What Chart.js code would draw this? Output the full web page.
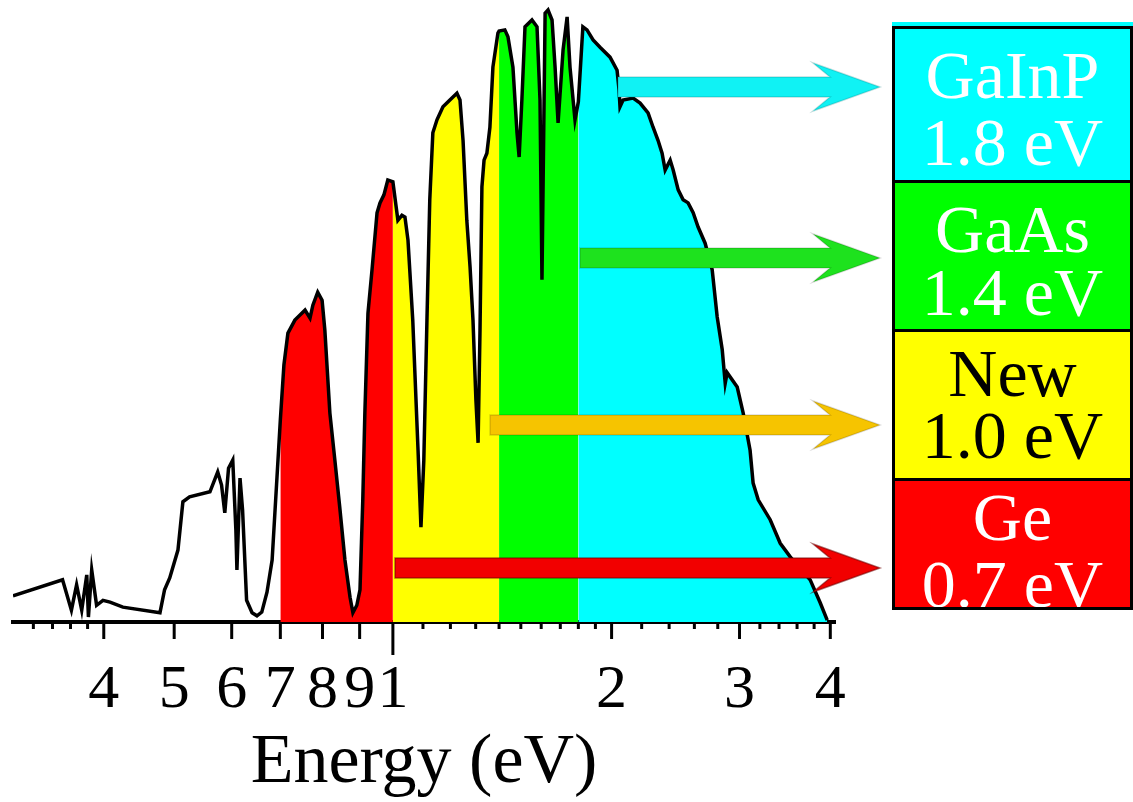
<!DOCTYPE html>
<html>
<head>
<meta charset="utf-8">
<title>Energy (eV)</title>
<script src="https://cdn.jsdelivr.net/npm/chart.js@4.4.0/dist/chart.umd.min.js"></script>
<style>
  html, body { margin: 0; padding: 0; background: #fff; }
  #wrap { width: 1133px; height: 802px; }
</style>
</head>
<body>
<div id="wrap"><canvas id="spectrum" width="1133" height="802"></canvas></div>
<script>
"use strict";

// photon energy (eV) and spectral intensity (arb. units, 0-100)
var energy = [
    0.300, 0.351, 0.361, 0.367, 0.373, 0.379, 0.381, 0.385, 0.391, 0.399,
    0.408, 0.425, 0.478, 0.485, 0.493, 0.506, 0.514, 0.525, 0.560, 0.574,
    0.581, 0.587, 0.594, 0.602, 0.608, 0.610, 0.616, 0.621, 0.629, 0.640,
    0.650, 0.660, 0.671, 0.682, 0.700, 0.708, 0.717, 0.733, 0.745, 0.757,
    0.769, 0.776, 0.788, 0.799, 0.806, 0.819, 0.832, 0.845, 0.859, 0.873,
    0.881, 0.892, 0.901, 0.909, 0.915, 0.924, 0.936, 0.951, 0.960, 0.972,
    0.984, 1.000, 1.016, 1.029, 1.039, 1.049, 1.065, 1.083, 1.093, 1.103,
    1.114, 1.124, 1.135, 1.150, 1.172, 1.198, 1.225, 1.237, 1.249, 1.264,
    1.277, 1.289, 1.301, 1.310, 1.318, 1.326, 1.335, 1.347, 1.360, 1.373,
    1.395, 1.400, 1.426, 1.440, 1.463, 1.482, 1.492, 1.505, 1.520, 1.554,
    1.579, 1.594, 1.604, 1.620, 1.635, 1.656, 1.672, 1.688, 1.715, 1.737,
    1.753, 1.781, 1.800, 1.826, 1.850, 1.886, 1.928, 1.990, 2.035, 2.048,
    2.054, 2.074, 2.141, 2.189, 2.245, 2.281, 2.317, 2.347, 2.370, 2.408,
    2.431, 2.470, 2.509, 2.549, 2.590, 2.631, 2.690, 2.751, 2.795, 2.840,
    2.867, 2.885, 2.978, 3.035, 3.102, 3.132, 3.183, 3.306, 3.413, 3.523,
    3.753, 3.874, 3.961
];
var intensity = [
    4.2, 6.8, 1.9, 6.0, 1.9, 7.6, 0.8, 8.4, 2.7, 3.5,
    3.2, 2.4, 1.5, 5.2, 7.1, 11.6, 19.4, 20.2, 21.0, 24.2,
    22.1, 17.6, 24.8, 26.1, 14.8, 8.4, 23.2, 18.1, 3.5, 1.5,
    1.0, 1.6, 4.8, 10.0, 32.6, 41.5, 46.6, 48.7, 49.5, 50.3,
    49.0, 51.1, 53.2, 51.9, 47.1, 33.7, 26.1, 18.5, 10.0, 4.0,
    1.5, 2.7, 5.2, 19.7, 33.7, 49.8, 56.8, 66.0, 67.6, 68.9,
    71.3, 71.0, 64.8, 65.6, 65.3, 61.6, 48.7, 27.7, 15.3, 26.1,
    48.7, 68.1, 78.9, 81.0, 83.1, 84.2, 85.3, 84.2, 77.7, 64.8,
    57.3, 48.7, 35.8, 28.9, 47.1, 70.2, 74.5, 75.6, 79.8, 89.5,
    95.0, 95.3, 95.5, 94.4, 89.5, 78.9, 75.0, 84.2, 96.0, 97.1,
    96.0, 84.2, 55.2, 98.2, 98.7, 97.1, 89.5, 80.5, 92.3, 97.6,
    89.5, 81.0, 83.9, 96.0, 95.5, 93.9, 92.7, 91.1, 89.0, 85.8,
    83.1, 84.2, 84.5, 83.7, 82.1, 79.8, 77.7, 75.6, 72.9, 74.5,
    72.9, 69.7, 68.1, 67.6, 66.0, 63.7, 61.1, 56.8, 49.2, 43.9,
    38.5, 40.2, 37.9, 33.7, 27.7, 22.4, 19.7, 16.5, 12.7, 10.5,
    6.8, 3.1, 0.3
];

// junction band gaps, lowest first
var bandGap = [0.7, 1.0, 1.4, 1.8];
var bandName = ["Ge", "New", "GaAs", "GaInP"];
var bandLabel = ["0.7 eV", "1.0 eV", "1.4 eV", "1.8 eV"];

var majorTicks = [0.4, 0.5, 0.6, 0.7, 0.8, 0.9, 1, 2, 3, 4];
var majorLabels = ["4", "5", "6", "7", "8", "9", "1", "2", "3", "4"];
var minorTicks = [0.32, 0.34, 0.36, 0.38, 1.1, 1.2, 1.3, 1.4, 1.5, 1.6, 1.7, 1.8, 1.9,
    2.2, 2.4, 2.6, 2.8, 3.2, 3.4, 3.6, 3.8];

var fillColors = ["#ff0000", "#ffff00", "#00ff00", "#00ffff"];
var arrowColors = ["#f20000", "#f6c400", "#1ee21e", "#10f2f4"];
var arrowEdges = ["rgba(110,0,0,0.55)", "rgba(0,0,0,0.15)", "rgba(0,0,0,0.15)", "rgba(0,120,120,0.25)"];
var textColors = ["#ffffff", "#000000", "#ffffff", "#ffffff"];
var serif = "'Liberation Serif', 'Times New Roman', serif";

function pointsBetween(lo, hi) {
    var out = [];
    for (var i = 0; i < energy.length; i++) {
        if (energy[i] >= lo && energy[i] <= hi) {
            out.push({x: energy[i], y: intensity[i]});
        }
    }
    return out;
}

var allTicks = majorTicks.concat(minorTicks).sort(function(a, b) { return a - b; });

/* tick marks with three lengths: minor, labelled, and the one at 1 eV */
var tickMarks = {
    id: "tickMarks",
    afterDraw: function(chart) {
        var ctx = chart.ctx;
        var scale = chart.scales.x;
        var y0 = chart.chartArea.bottom;
        ctx.save();
        ctx.strokeStyle = "#000";
        ctx.lineWidth = 3;
        scale.ticks.forEach(function(t) {
            var px = scale.getPixelForValue(t.value);
            var len = 7;
            if (t.value === 1) len = 33;
            else if (majorTicks.indexOf(t.value) >= 0) len = 17;
            ctx.beginPath();
            ctx.moveTo(px, y0);
            ctx.lineTo(px, y0 + len);
            ctx.stroke();
        });
        ctx.restore();
    }
};

/* arrows from each coloured band to its box on the right */
var bandArrows = {
    id: "bandArrows",
    afterDatasetsDraw: function(chart) {
        var ctx = chart.ctx;
        var rows = [568, 425, 258, 87];
        var starts = [395, 490, 580, 618];
        var shaft = 10, head = 24, barbX = 813, neckX = 830, tipX = 880;
        ctx.save();
        for (var i = 0; i < bandGap.length; i++) {
            var cy = rows[i];
            ctx.beginPath();
            ctx.moveTo(starts[i], cy - shaft);
            ctx.lineTo(neckX, cy - shaft);
            ctx.lineTo(barbX, cy - head);
            ctx.lineTo(tipX, cy);
            ctx.lineTo(barbX, cy + head);
            ctx.lineTo(neckX, cy + shaft);
            ctx.lineTo(starts[i], cy + shaft);
            ctx.closePath();
            ctx.fillStyle = arrowColors[i];
            ctx.fill();
            ctx.lineWidth = 1.5;
            ctx.strokeStyle = arrowEdges[i];
            ctx.stroke();
        }
        ctx.restore();
    }
};

/* the labelled boxes on the right */
var bandBoxes = {
    id: "bandBoxes",
    afterDraw: function(chart) {
        var ctx = chart.ctx;
        var left = 892, right = 1133;
        var tops = [481, 332, 183, 29];
        var bottoms = [607, 478, 329, 180];
        var baselines = [[540, 607], [396, 458], [252, 315], [98, 165]];
        ctx.save();
        ctx.fillStyle = fillColors[3];
        ctx.fillRect(left, 22, right - left, 4);
        ctx.font = "68px " + serif;
        ctx.textAlign = "center";
        ctx.textBaseline = "alphabetic";
        for (var i = 0; i < bandGap.length; i++) {
            ctx.fillStyle = fillColors[i];
            ctx.fillRect(left, tops[i], right - left, bottoms[i] - tops[i]);
            ctx.save();
            ctx.beginPath();
            ctx.rect(left, tops[i], right - left, bottoms[i] - tops[i]);
            ctx.clip();
            ctx.fillStyle = textColors[i];
            ctx.fillText(bandName[i], (left + right) / 2, baselines[i][0]);
            ctx.fillText(bandLabel[i], (left + right) / 2, baselines[i][1]);
            ctx.restore();
        }
        ctx.fillStyle = "#000";
        ctx.fillRect(left, 26, 3, 584);
        ctx.fillRect(right - 3, 26, 3, 584);
        [26, 180, 329, 478, 607].forEach(function(y) {
            ctx.fillRect(left, y, right - left, 3);
        });
        ctx.restore();
    }
};

var datasets = [{
    label: "spectrum",
    data: pointsBetween(0, 10),
    borderColor: "#000",
    borderWidth: 3.5,
    pointRadius: 0,
    fill: false,
    tension: 0
}];
for (var b = 0; b < bandGap.length; b++) {
    datasets.push({
        label: bandName[b],
        data: pointsBetween(bandGap[b], b + 1 < bandGap.length ? bandGap[b + 1] : 10),
        backgroundColor: fillColors[b],
        borderWidth: 0,
        pointRadius: 0,
        fill: "origin",
        tension: 0
    });
}

new Chart(document.getElementById("spectrum"), {
    type: "line",
    data: {datasets: datasets},
    plugins: [tickMarks, bandArrows, bandBoxes],
    options: {
        responsive: false,
        animation: false,
        devicePixelRatio: 1,
        layout: {padding: {left: 13, right: 298, top: 2, bottom: 0}},
        plugins: {
            legend: {display: false},
            tooltip: {enabled: false}
        },
        scales: {
            x: {
                type: "logarithmic",
                min: 0.3,
                max: 4.06,
                bounds: "data",
                afterBuildTicks: function(scale) {
                    scale.ticks = allTicks.map(function(v) { return {value: v}; });
                },
                grid: {display: false, drawTicks: false, tickLength: 0},
                border: {display: true, color: "#000", width: 4},
                ticks: {
                    autoSkip: false,
                    maxRotation: 0,
                    padding: 31.8,
                    color: "#000",
                    font: {family: serif, size: 62},
                    callback: function(value) {
                        var i = majorTicks.indexOf(value);
                        return i >= 0 ? majorLabels[i] : "";
                    }
                },
                title: {
                    display: true,
                    text: "Energy (eV)",
                    color: "#000",
                    font: {family: serif, size: 70, lineHeight: 1},
                    padding: {top: -31.6, bottom: 3.6}
                }
            },
            y: {
                display: false,
                min: 0,
                max: 100
            }
        }
    }
});
</script>
</body>
</html>
